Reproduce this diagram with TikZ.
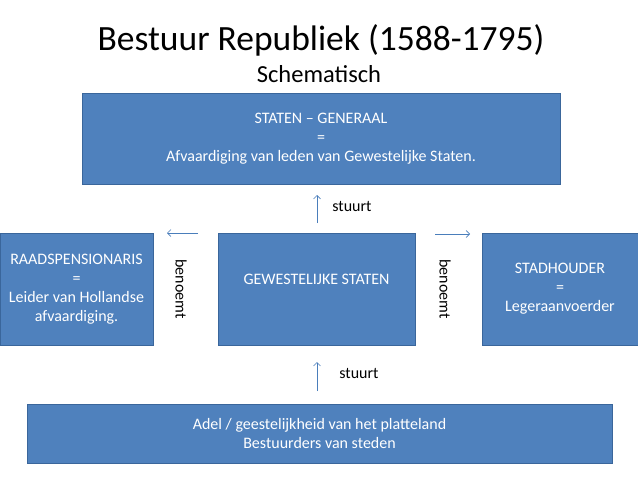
\documentclass[tikz,border=0pt]{standalone}
\usepackage{fontspec}
\usetikzlibrary{arrows.meta}
\setmainfont{Carlito}
\definecolor{boxblue}{HTML}{4F81BD}
\definecolor{boxedge}{HTML}{3A669B}
\definecolor{arrowblue}{HTML}{4A7EBB}
\tikzset{
  blok/.style={draw=boxedge, fill=boxblue, text=white, align=center,
    inner sep=0pt, font=\fontsize{16}{19}\selectfont},
  pijl/.style={-{Straight Barb[length=3.5pt,width=7pt]}, draw=arrowblue, line width=0.6pt},
  label/.style={font=\fontsize{16}{19}\selectfont, inner sep=0pt}
}
\begin{document}
\begin{tikzpicture}[x=1pt,y=-1pt]
        % Fix the page to the size of the slide
        \useasboundingbox (0,0) rectangle (638,479);
        
        % Title and subtitle
        \node[font=\fontsize{35.5}{40}\selectfont] (titel) at (321,40) {Bestuur Republiek (1588-1795)};
        \node[font=\fontsize{24.5}{28}\selectfont] (sub) at (319,74) {Schematisch};
        
        % Top box: Staten-Generaal
        \node[blok, minimum width=478pt, minimum height=91pt] (sg) at (321,138.5)
          {STATEN -- GENERAAL\\=\\Afvaardiging van leden van Gewestelijke Staten.};
        
        % Middle row
        \node[blok, minimum width=153pt, minimum height=112pt] (rp) at (76.5,289)
          {RAADSPENSIONARIS\\=\\Leider van Hollandse\\afvaardiging.};
        \node[blok, minimum width=197pt, minimum height=112pt] (gs) at (316.5,289)
          {GEWESTELIJKE STATEN\\\mbox{}};
        \node[blok, minimum width=156pt, minimum height=112pt] (sh) at (560,289)
          {STADHOUDER\\=\\Legeraanvoerder};
        
        % Bottom box
        \node[blok, minimum width=585pt, minimum height=59pt] (adel) at (319.5,433.5)
          {Adel / geestelijkheid van het platteland\\Bestuurders van steden};
        
        % Arrows between the boxes
        \coordinate (p1) at (317,223);
        \coordinate (p2) at (317,195);
        \draw[pijl] (p1) -- (p2);
        \node[label] (s1) at (352,206) {stuurt};
        
        \coordinate (p3) at (317,391);
        \coordinate (p4) at (317,362);
        \draw[pijl] (p3) -- (p4);
        \node[label] (s2) at (359,373) {stuurt};
        
        \coordinate (p5) at (198,233);
        \coordinate (p6) at (167,233);
        \draw[pijl] (p5) -- (p6);
        \coordinate (p7) at (435,234);
        \coordinate (p8) at (470,234);
        \draw[pijl] (p7) -- (p8);
        
        % Rotated labels
        \node[label, rotate=-90] (b1) at (181,289) {benoemt};
        \node[label, rotate=-90] (b2) at (445,289) {benoemt};
    \end{tikzpicture}
\end{document}
